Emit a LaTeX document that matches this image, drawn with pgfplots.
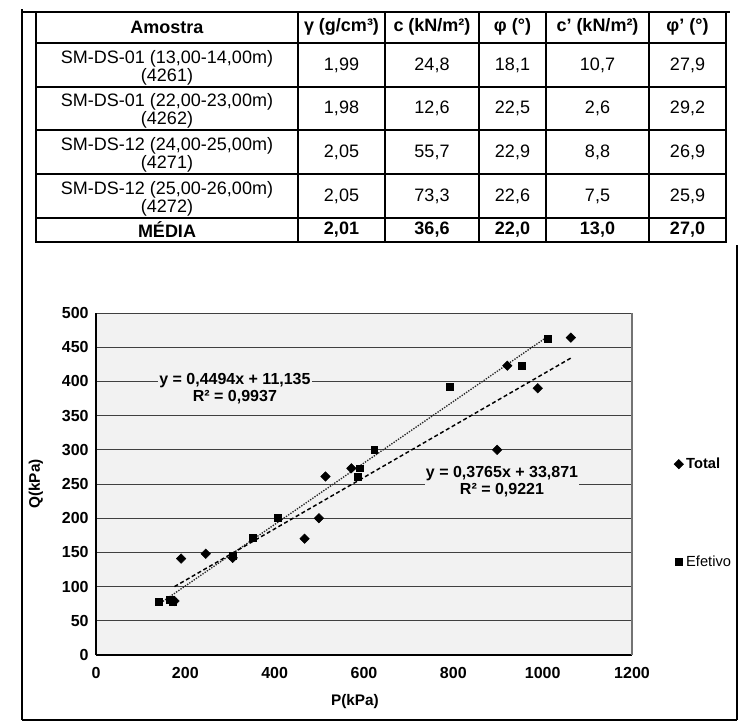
\documentclass[border=0pt]{standalone}
\usepackage{pgfplots}
\pgfplotsset{compat=1.18}
\usepackage{fontspec}
\setmainfont{Liberation Sans}
\newcommand\tf{\fontsize{13.5}{13.5}\selectfont}
\begin{document}
\begin{tikzpicture}
\path[fill=white] (0,0) rectangle (556.5pt,-541.5pt);
\begin{scope}[x=0.75pt,y=-0.75pt]
  % outer frame
  \draw[line width=1.1pt] (22,9) -- (22,720);
  \draw[line width=2pt] (22,720) -- (737,720);
  \draw[line width=1.1pt] (737,720) -- (737,245);
  % table grid
  \draw[line width=1.6pt] (22,12) -- (730,12);
  \draw[line width=1.1pt] (36,12) rectangle (726,242);
  \foreach \yy in {43,87,130,174,218} \draw[line width=0.9pt] (36,\yy) -- (726,\yy);
  \foreach \xx in {298,385,479,546,649} \draw[line width=0.9pt] (\xx,12) -- (\xx,242);
  % header
  \begin{scope}[every node/.style={font=\tf\bfseries}]
    \node at (167,27) {Amostra};
    \node at (341.5,27) {γ (g/cm³)};
    \node at (432,27) {c (kN/m²)};
    \node at (512.5,27) {φ (°)};
    \node at (597.5,27) {c' (kN/m²)};
    \node at (687.5,27) {φ' (°)};
  \end{scope}
  \begin{scope}[every node/.style={font=\tf, align=center}]
    \node at (167,68) {SM-DS-01 (13,00-14,00m)\\(4261)};
    \node at (167,111) {SM-DS-01 (22,00-23,00m)\\(4262)};
    \node at (167,155) {SM-DS-12 (24,00-25,00m)\\(4271)};
    \node at (167,199) {SM-DS-12 (25,00-26,00m)\\(4272)};
    \node at (341.5,65) {1,99}; \node at (432,65) {24,8}; \node at (512.5,65) {18,1};
    \node at (597.5,65) {10,7}; \node at (687.5,65) {27,9};
    \node at (341.5,108.5) {1,98}; \node at (432,108.5) {12,6}; \node at (512.5,108.5) {22,5};
    \node at (597.5,108.5) {2,6}; \node at (687.5,108.5) {29,2};
    \node at (341.5,152) {2,05}; \node at (432,152) {55,7}; \node at (512.5,152) {22,9};
    \node at (597.5,152) {8,8}; \node at (687.5,152) {26,9};
    \node at (341.5,196) {2,05}; \node at (432,196) {73,3}; \node at (512.5,196) {22,6};
    \node at (597.5,196) {7,5}; \node at (687.5,196) {25,9};
  \end{scope}
  \begin{scope}[every node/.style={font=\tf\bfseries}]
    \node at (167,230) {MÉDIA};
    \node at (341.5,230) {2,01}; \node at (432,230) {36,6}; \node at (512.5,230) {22,0};
    \node at (597.5,230) {13,0}; \node at (687.5,230) {27,0};
  \end{scope}
\end{scope}
\begin{axis}[
  at={(72pt,-491.25pt)}, anchor=south west,
  scale only axis, width=402pt, height=256.5pt,
  xmin=0, xmax=1200, ymin=0, ymax=500,
  xtick={0,200,400,600,800,1000,1200},
  ytick={0,50,...,500},
  major tick length=0pt,
  axis x line*=bottom, axis y line*=left,
  axis line style={-, black, line width=1pt},
  ymajorgrids,
  major grid style={black!75, line width=0.7pt},
  axis background/.style={fill=black!5},
  tick label style={font=\fontsize{12}{14}\selectfont\bfseries},
  /pgf/number format/assume math mode=true,
  /pgf/number format/1000 sep={},
  yticklabel style={xshift=-2pt},
  xticklabel style={yshift=-6pt},
  xlabel={P(kPa)}, ylabel={Q(kPa)},
  label style={font=\fontsize{11.5}{13}\selectfont\bfseries},
  xlabel style={at={(axis description cs:0.483,-0.137)}, anchor=center},
  ylabel style={at={(axis description cs:-0.112,0.5)}, anchor=center},
  legend style={at={(axis description cs:1.078,0.585)}, anchor=north west, draw=none, fill=none,
    font=\fontsize{11}{13}\selectfont, row sep=60pt, inner sep=0pt},
  legend cell align=left,
  legend image code/.code={\draw[only marks,#1] plot coordinates {(0.1cm,0cm)};},
  clip=false,
]
\draw[black!55, line width=0.8pt] (rel axis cs:1,0) -- (rel axis cs:1,1);
% trendlines
\addplot[forget plot, black!85, line width=1pt, dash pattern=on 1pt off 1pt]
  coordinates {(140,74.0) (1011,465.5)};
\addplot[forget plot, black, line width=1.1pt, dash pattern=on 3pt off 2pt]
  coordinates {(175.7,100.0) (1063,434.1)};
% data
\addplot[only marks, mark=square*, mark size=2.5pt, mark options={rotate=45}, black]
  coordinates {(175.7,79) (190.5,141) (245.6,148) (306,142) (467,170) (499,200)
   (513.7,261) (571.7,273) (898,300) (920.8,423) (989,390) (1063,464)};
\addlegendentry{\bfseries Total}
\addplot[only marks, mark=square*, mark size=2.6pt, black]
  coordinates {(140.6,78) (164.3,81) (172,78) (306,145) (351.5,172) (406,201)
   (587,260) (590,273) (623,300) (793,392) (954,423) (1011,463)};
\addlegendentry{Efetivo}
\node[fill=black!5, inner sep=1pt, align=center, font=\fontsize{12}{12.75}\selectfont\bfseries]
  at (axis cs:311,390) {y = 0,4494x + 11,135\\R² = 0,9937};
\node[fill=black!5, inner sep=1pt, align=center, font=\fontsize{12}{12.75}\selectfont\bfseries]
  at (axis cs:909,254) {y = 0,3765x + 33,871\\R² = 0,9221};
\end{axis}
\end{tikzpicture}
\end{document}
